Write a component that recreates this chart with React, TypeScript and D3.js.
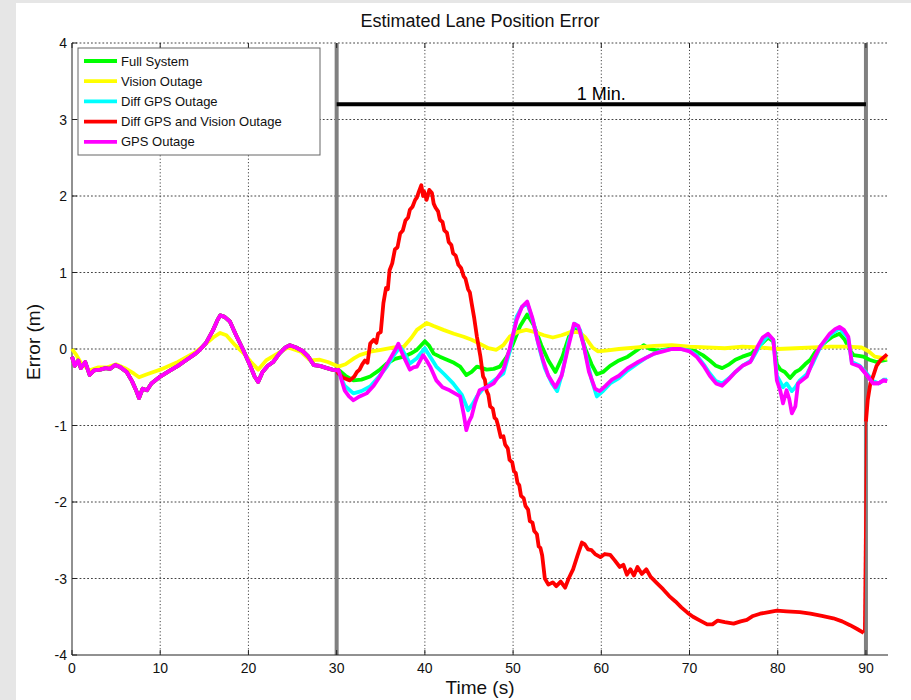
import React from "react";
import * as d3 from "d3";

type Pt = [number, number];

const title = "Estimated Lane Position Error";
const xLabel = "Time (s)";
const yLabel = "Error (m)";
const xTicks = [0, 10, 20, 30, 40, 50, 60, 70, 80, 90];
const yTicks = [-4, -3, -2, -1, 0, 1, 2, 3, 4];
const markerTimes = [30, 90];
const spanLabel = "1 Min.";
const spanLevel = 3.2;

// shared trace for 0-30 s (all non-vision-outage runs coincide)
const commonStart: Pt[] = [
  [0, -0.1], [0.3, -0.22], [0.7, -0.15], [1.0, -0.25], [1.5, -0.17], [2.0, -0.34], [2.5, -0.28],
  [3.2, -0.27], [3.8, -0.25], [4.3, -0.26], [4.9, -0.21], [5.5, -0.24], [6.2, -0.3], [6.8, -0.42],
  [7.3, -0.55], [7.6, -0.64], [8.0, -0.52], [8.5, -0.54], [9.0, -0.45], [10.0, -0.36], [11, -0.29],
  [12, -0.22], [13, -0.14], [14, -0.06], [14.5, -0.01], [15.2, 0.08], [16.0, 0.25], [16.5, 0.38],
  [16.8, 0.44], [17.3, 0.42], [17.9, 0.36], [18.6, 0.18], [19.4, -0.01], [20.2, -0.22], [20.7, -0.36],
  [21.1, -0.43], [21.6, -0.3], [22.2, -0.22], [22.8, -0.17], [23.5, -0.06], [24.2, 0.02], [24.7, 0.05],
  [25.4, 0.02], [26.2, -0.03], [26.8, -0.1], [27.4, -0.21], [28.1, -0.22], [28.9, -0.25], [29.5, -0.27],
  [30.0, -0.28],
];

const visionOutage: Pt[] = [
  [0, 0.0], [0.5, -0.08], [1, -0.18], [2, -0.28], [3, -0.24], [4, -0.24], [5, -0.2], [6, -0.25],
  [7, -0.32], [7.6, -0.37], [8.5, -0.33], [10, -0.27], [12, -0.17], [14, -0.04], [15, 0.05], [16, 0.15],
  [16.8, 0.21], [17.5, 0.18], [18.5, 0.05], [19.4, -0.05], [20.3, -0.17], [21.1, -0.27], [22, -0.15],
  [23, -0.08], [24.5, 0.02], [26, -0.04], [27, -0.15], [28.1, -0.14], [29, -0.17], [30.2, -0.23],
  [31, -0.2], [32, -0.12], [32.6, -0.08], [34, -0.03], [35, -0.01], [36.5, 0.02], [37.6, 0.03],
  [38.5, 0.15], [39.1, 0.25], [40.2, 0.34], [41, 0.3], [42.1, 0.25], [43.3, 0.2], [44.4, 0.16],
  [45.3, 0.12], [46.2, 0.07], [47.2, 0.01], [48.1, -0.01], [48.9, 0.05], [49.6, 0.16], [50.5, 0.22],
  [51.5, 0.25], [52.5, 0.22], [53.5, 0.18], [54.5, 0.15], [55.5, 0.18], [56.5, 0.22], [57.5, 0.22],
  [58.2, 0.15], [59, 0.02], [59.6, -0.03], [60.5, -0.02], [62, 0.0], [64, 0.02], [66, 0.04], [68, 0.05],
  [70, 0.03], [72, 0.02], [74, 0.01], [76, 0.03], [78, 0.02], [80, 0.0], [82, 0.01], [84, 0.02],
  [86, 0.03], [88, 0.03], [89.5, 0.02], [90.3, -0.03], [91, -0.1], [92, -0.12], [92.4, -0.13],
];

const fullSystemTail: Pt[] = [
  [30.2, -0.27], [31, -0.35], [31.9, -0.41], [32.8, -0.4], [33.8, -0.36], [34.8, -0.28], [35.7, -0.19],
  [36.6, -0.13], [37.6, -0.1], [38.4, -0.06], [39.1, -0.01], [40, 0.1], [40.5, 0.04], [41, -0.06],
  [41.7, -0.1], [42.5, -0.14], [43.3, -0.18], [44, -0.23], [44.7, -0.34], [45.3, -0.3], [45.9, -0.23],
  [46.5, -0.25], [47, -0.27], [47.8, -0.26], [48.5, -0.23], [49.3, -0.1], [50, 0.07], [50.8, 0.3],
  [51.6, 0.45], [52.4, 0.3], [53.2, 0.05], [54, -0.15], [54.8, -0.3], [55.6, -0.1], [56.3, 0.15],
  [57, 0.3], [57.6, 0.22], [58.2, 0.0], [58.9, -0.2], [59.5, -0.33], [60.2, -0.3], [61, -0.22],
  [62, -0.15], [63, -0.1], [64, -0.02], [64.8, 0.05], [65.5, 0.0], [66.5, -0.02], [67.5, 0.0],
  [68.5, 0.02], [69.5, 0.0], [70.5, -0.02], [71.5, -0.08], [72.3, -0.15], [73, -0.22], [73.7, -0.25],
  [74.5, -0.2], [75.2, -0.14], [76, -0.1], [77, -0.06], [78, 0.05], [78.9, 0.15], [79.5, 0.1],
  [79.9, -0.2], [80.3, -0.27], [80.8, -0.3], [81.4, -0.38], [82, -0.3], [82.5, -0.27], [83.1, -0.2],
  [83.7, -0.14], [84.2, -0.05], [84.8, 0.03], [85.5, 0.1], [86.2, 0.16], [87, 0.2], [87.6, 0.12],
  [88.2, -0.02], [88.6, -0.08], [89.2, -0.09], [89.7, -0.1], [90.4, -0.14], [91.2, -0.17], [92, -0.15],
  [92.4, -0.14],
];

const diffGpsTail: Pt[] = [
  [30.2, -0.3], [30.9, -0.48], [31.9, -0.58], [32.8, -0.55], [33.8, -0.49], [34.8, -0.36], [35.7, -0.23],
  [36.5, -0.08], [37.2, 0.03], [37.8, -0.08], [38.3, -0.19], [39.1, -0.12], [40, 0.01], [40.6, -0.1],
  [41.3, -0.23], [42.2, -0.33], [43.2, -0.45], [44.2, -0.6], [44.9, -0.8], [45.4, -0.72], [45.9, -0.62],
  [46.6, -0.52], [47.4, -0.45], [48.2, -0.38], [48.9, -0.32], [49.7, 0.0], [50.4, 0.42], [51.0, 0.55],
  [51.6, 0.6], [52.3, 0.35], [53, 0.0], [53.6, -0.25], [54.4, -0.45], [55, -0.55], [55.6, -0.3],
  [56.3, 0.1], [57, 0.33], [57.6, 0.25], [58.2, -0.05], [58.9, -0.4], [59.5, -0.62], [60.2, -0.55],
  [61, -0.45], [62, -0.38], [63, -0.28], [64, -0.2], [65, -0.12], [66, -0.06], [67, -0.02], [68, 0.0],
  [69, 0.0], [70, -0.02], [70.8, -0.08], [71.6, -0.2], [72.3, -0.32], [73, -0.42], [73.7, -0.45],
  [74.5, -0.38], [75.2, -0.3], [76, -0.22], [77, -0.15], [78, 0.05], [78.9, 0.18], [79.5, 0.12],
  [79.9, -0.35], [80.6, -0.5], [81, -0.45], [81.6, -0.55], [82, -0.5], [82.5, -0.41], [83.3, -0.33],
  [84, -0.18], [84.8, 0.02], [85.9, 0.18], [87, 0.27], [88, 0.14], [88.4, -0.17], [89.3, -0.22],
  [90.1, -0.32], [90.8, -0.42], [91.5, -0.45], [92, -0.4], [92.4, -0.4],
];

const diffGpsVisionTail: Pt[] = [
  [30.2, -0.32], [30.8, -0.38], [31.5, -0.41], [32, -0.36], [32.3, -0.3], [32.6, -0.27], [32.9, -0.2],
  [33.2, -0.15], [33.5, -0.18], [33.8, 0.07], [34.2, 0.12], [34.5, 0.08], [34.7, 0.2], [35, 0.22],
  [35.3, 0.6], [35.6, 0.8], [35.8, 0.78], [36.0, 1.03], [36.3, 1.12], [36.6, 1.3], [36.9, 1.33],
  [37.2, 1.51], [37.5, 1.55], [37.8, 1.68], [38.1, 1.72], [38.3, 1.82], [38.6, 1.86], [38.9, 1.95],
  [39.1, 1.98], [39.3, 2.05], [39.6, 2.14], [39.8, 2.0], [39.9, 2.06], [40.2, 1.95], [40.5, 2.08],
  [40.8, 2.04], [41.0, 1.9], [41.2, 1.85], [41.5, 1.8], [41.7, 1.69], [42.0, 1.66], [42.2, 1.55],
  [42.5, 1.52], [42.7, 1.4], [43.0, 1.36], [43.2, 1.25], [43.5, 1.22], [43.8, 1.1], [44.1, 1.06],
  [44.4, 0.95], [44.6, 0.92], [44.9, 0.78], [45.1, 0.74], [45.3, 0.6], [45.6, 0.4], [45.9, 0.16],
  [46.3, -0.1], [46.6, -0.36], [46.8, -0.4], [47.0, -0.55], [47.2, -0.6], [47.4, -0.75], [47.7, -0.78],
  [47.9, -0.9], [48.1, -0.92], [48.3, -1.0], [48.6, -1.15], [48.9, -1.14], [49.1, -1.25], [49.4, -1.3],
  [49.6, -1.45], [49.9, -1.48], [50.1, -1.6], [50.3, -1.62], [50.5, -1.75], [50.7, -1.78], [50.9, -1.92],
  [51.2, -1.95], [51.4, -2.05], [51.7, -2.1], [51.9, -2.25], [52.2, -2.27], [52.4, -2.38], [52.7, -2.42],
  [52.9, -2.58], [53.1, -2.6], [53.3, -2.7], [53.6, -3.0], [54.0, -3.08], [54.5, -3.05],
  [54.9, -3.1], [55.4, -3.04], [55.9, -3.12], [56.3, -3.0], [56.8, -2.88], [57.3, -2.7], [57.8, -2.53],
  [58.1, -2.55], [58.5, -2.62], [58.9, -2.63], [59.3, -2.68], [59.9, -2.72], [60.4, -2.68], [61, -2.69],
  [61.5, -2.76], [62.1, -2.85], [62.5, -2.82], [62.9, -2.95], [63.3, -2.88], [63.7, -2.96], [64.1, -2.85],
  [64.6, -2.94], [65.1, -2.88], [65.6, -2.98], [66.3, -3.06], [67.0, -3.14], [67.7, -3.23], [68.4, -3.3],
  [69.1, -3.38], [69.8, -3.45], [70.4, -3.5], [71.2, -3.55], [72.0, -3.6], [72.6, -3.6], [73.2, -3.55],
  [74, -3.57], [75, -3.59], [75.8, -3.56], [76.5, -3.54], [77.2, -3.49], [78, -3.46], [79, -3.44],
  [79.9, -3.42], [81, -3.43], [82.5, -3.44], [83.7, -3.46], [85, -3.49], [86.3, -3.52], [87.3, -3.56],
  [88.2, -3.61], [89, -3.66], [89.75, -3.71],
];
const diffGpsVisionRecovery: Pt[] = [
  [90.0, -0.95], [90.2, -0.67], [90.5, -0.45], [90.8, -0.36], [91.2, -0.22], [91.7, -0.14], [92.2, -0.09],
  [92.4, -0.07],
];

const gpsOutageTail: Pt[] = [
  [30.2, -0.27], [30.9, -0.54], [31.4, -0.62], [31.9, -0.67], [32.6, -0.62], [33.4, -0.58], [34.2, -0.48],
  [34.9, -0.36], [35.6, -0.22], [36.2, -0.1], [36.6, -0.02], [37, 0.07], [37.3, -0.02], [37.6, -0.1],
  [38.3, -0.27], [38.7, -0.24], [39.1, -0.23], [39.8, -0.08], [40.2, -0.15], [40.6, -0.23], [41.3, -0.41],
  [42, -0.5], [42.8, -0.54], [43.4, -0.58], [44, -0.62], [44.4, -0.85], [44.7, -1.06], [45, -0.95],
  [45.3, -0.88], [45.7, -0.7], [46.2, -0.54], [47, -0.5], [47.8, -0.45], [48.4, -0.35], [48.9, -0.27],
  [49.6, 0.0], [50.4, 0.38], [51, 0.55], [51.6, 0.62], [52.2, 0.4], [52.8, 0.1], [53.4, -0.15],
  [54, -0.35], [54.8, -0.5], [55.5, -0.35], [56.2, 0.0], [56.9, 0.33], [57.4, 0.3], [58, 0.05],
  [58.6, -0.3], [59.3, -0.52], [59.8, -0.55], [60.5, -0.48], [61.2, -0.4], [62, -0.35], [63, -0.25],
  [64, -0.18], [65, -0.12], [66, -0.06], [67, -0.03], [68, 0.0], [69, 0.0], [70, -0.03], [70.8, -0.1],
  [71.6, -0.22], [72.3, -0.35], [73, -0.45], [73.7, -0.48], [74.4, -0.4], [75.2, -0.3], [76, -0.22],
  [76.9, -0.17], [77.8, 0.05], [78.3, 0.15], [78.9, 0.2], [79.5, 0.12], [79.9, -0.41], [80.3, -0.55],
  [80.6, -0.71], [81, -0.54], [81.3, -0.65], [81.6, -0.84], [82, -0.75], [82.3, -0.45], [83.3, -0.36],
  [84, -0.15], [84.8, 0.03], [85.9, 0.2], [86.5, 0.26], [87, 0.29], [87.5, 0.25], [88, 0.16],
  [88.4, -0.19], [89.3, -0.23], [90.1, -0.34], [90.8, -0.45], [91.4, -0.45], [92, -0.41], [92.4, -0.42],
];

const seriesNames = ["Full System", "Vision Outage", "Diff GPS Outage", "Diff GPS and Vision Outage", "GPS Outage"];
const seriesColors = ["#00ff00", "#ffff00", "#00ffff", "#ff0000", "#ff00ff"];

const W = 911;
const H = 700;
const left = 72, right = 888, top = 43, bottom = 655;
const FONT = "'Liberation Sans', Arial, sans-serif";

export default function App() {
  const x = d3.scaleLinear().domain([0, 92.5]).range([left, right]);
  const y = d3.scaleLinear().domain([-4, 4]).range([bottom, top]);
  const line = d3.line<Pt>().x((d) => x(d[0])).y((d) => y(d[1]));

  const seriesData: Pt[][] = [
    [...commonStart, ...fullSystemTail],
    visionOutage,
    [...commonStart, ...diffGpsTail],
    [...commonStart, ...diffGpsVisionTail],
    [...commonStart, ...gpsOutageTail],
  ];
  const jumpFrom = diffGpsVisionTail[diffGpsVisionTail.length - 1];
  const jumpTo = diffGpsVisionRecovery[0];

  const legendX = 78, legendY = 48, legendW = 242, legendRow = 20.2;

  return (
    <svg width={W} height={H} style={{ position: "absolute", left: 0, top: 0, display: "block" }}>
      <rect x={0} y={0} width={W} height={H} fill="#ffffff" />
      <rect x={0} y={0} width={W} height={3} fill="#e6e6e6" />
      <rect x={0} y={0} width={16} height={H} fill="#e6e6e6" />

      {/* grid */}
      {xTicks.filter((t) => t > 0).map((t) => (
        <line key={"gx" + t} x1={x(t)} x2={x(t)} y1={top} y2={bottom} stroke="#444" strokeWidth={1} strokeDasharray="1.2,2.2" />
      ))}
      {yTicks.filter((t) => t > -4).map((t) => (
        <line key={"gy" + t} x1={left} x2={right} y1={y(t)} y2={y(t)} stroke="#444" strokeWidth={1} strokeDasharray="1.8,2" />
      ))}

      {/* marker verticals */}
      {markerTimes.map((t) => (
        <line key={"m" + t} x1={x(t)} x2={x(t)} y1={top} y2={bottom} stroke="#808080" strokeWidth={4} />
      ))}

      {/* axes */}
      <line x1={left} x2={right} y1={bottom} y2={bottom} stroke="#222" strokeWidth={1} />
      <line x1={left} x2={left} y1={top} y2={bottom} stroke="#222" strokeWidth={1} />
      {xTicks.map((t) => (
        <g key={"tx" + t}>
          <line x1={x(t)} x2={x(t)} y1={bottom} y2={bottom - 5} stroke="#222" />
          <line x1={x(t)} x2={x(t)} y1={top} y2={top + 5} stroke="#222" />
          <text x={x(t)} y={673} textAnchor="middle" fontFamily={FONT} fontSize={14} fill="#111">{t}</text>
        </g>
      ))}
      {yTicks.map((t) => (
        <g key={"ty" + t}>
          <line x1={left} x2={left + 5} y1={y(t)} y2={y(t)} stroke="#222" />
          <text x={67} y={y(t) + 5} textAnchor="end" fontFamily={FONT} fontSize={14} fill="#111">{t}</text>
        </g>
      ))}

      {/* 1 minute span */}
      <line x1={x(markerTimes[0])} x2={x(markerTimes[1])} y1={y(spanLevel)} y2={y(spanLevel)} stroke="#000" strokeWidth={4} />
      <text x={x((markerTimes[0] + markerTimes[1]) / 2)} y={y(spanLevel) - 4} textAnchor="middle" fontFamily={FONT} fontSize={18} fill="#000">{spanLabel}</text>

      {/* data */}
      {seriesData.map((d, i) => (
        <path key={"s" + i} d={line(d) || ""} fill="none" stroke={seriesColors[i]} strokeWidth={3.8} strokeLinejoin="round" />
      ))}
      <path d={line(diffGpsVisionRecovery) || ""} fill="none" stroke={seriesColors[3]} strokeWidth={3.8} strokeLinejoin="round" />
      <line x1={x(jumpFrom[0])} x2={x(jumpTo[0])} y1={y(jumpFrom[1])} y2={y(jumpTo[1])} stroke={seriesColors[3]} strokeWidth={1.5} />
      <path d={line(gpsOutageTail.filter((p) => p[0] >= 89)) || ""} fill="none" stroke={seriesColors[4]} strokeWidth={3.8} strokeLinejoin="round" />

      {/* legend */}
      <rect x={legendX} y={legendY} width={legendW} height={107} fill="#fff" stroke="#666" strokeWidth={1} />
      {seriesNames.map((n, i) => (
        <g key={"l" + i}>
          <line x1={84} x2={117} y1={61 + i * legendRow} y2={61 + i * legendRow} stroke={seriesColors[i]} strokeWidth={3.8} />
          <text x={121} y={61 + i * legendRow + 4.5} fontFamily={FONT} fontSize={13} fill="#111">{n}</text>
        </g>
      ))}

      {/* titles */}
      <text x={(left + right) / 2} y={27} textAnchor="middle" fontFamily={FONT} fontSize={18} fill="#111">{title}</text>
      <text x={(left + right) / 2} y={694} textAnchor="middle" fontFamily={FONT} fontSize={19} fill="#111">{xLabel}</text>
      <text transform={`translate(40, ${(top + bottom) / 2 - 7}) rotate(-90)`} textAnchor="middle" fontFamily={FONT} fontSize={19} fill="#111">{yLabel}</text>
    </svg>
  );
}
